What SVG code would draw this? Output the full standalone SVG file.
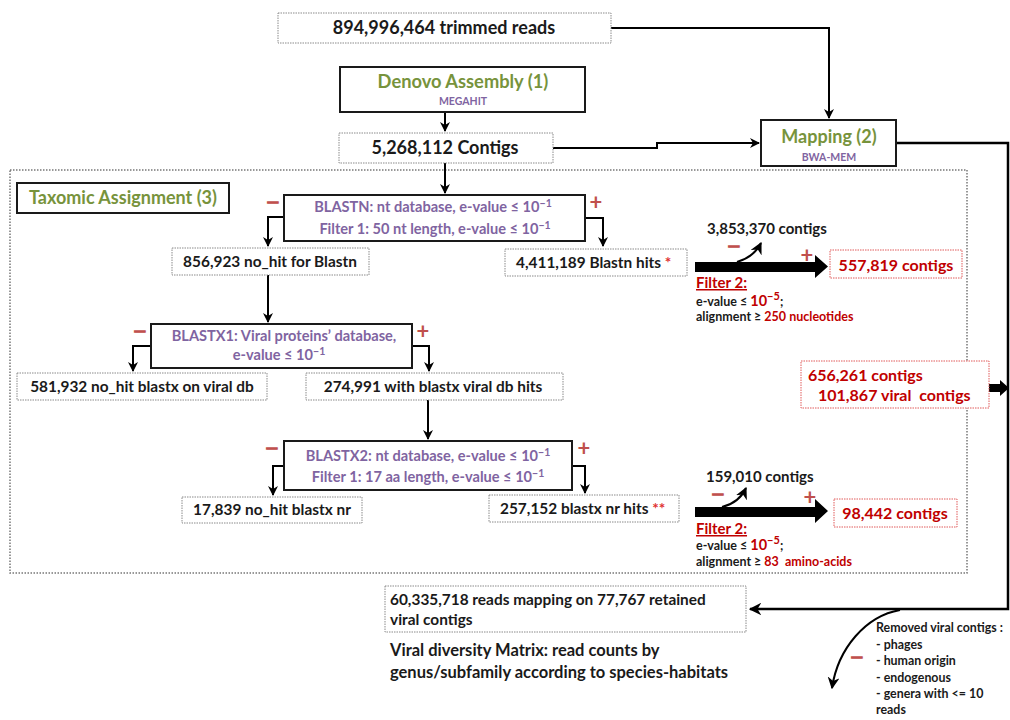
<svg xmlns="http://www.w3.org/2000/svg" width="1010" height="720" viewBox="0 0 1010 720">
<defs>
<style>
text{font-family:Lato,"Open Sans","Liberation Sans",sans-serif;font-weight:bold;fill:#1a1a1a}
.dash{fill:#fff;stroke:#8a8a8a;stroke-width:1;stroke-dasharray:1.5 1}
.rdash{fill:#fff;stroke:#e05a5a;stroke-width:1;stroke-dasharray:1.5 1}
.solid{fill:#fff;stroke:#1a1a1a;stroke-width:2}
.green{fill:#77933C}
.purple{fill:#7F64A1;font-size:14.6px}
.red{fill:#C00000}
.sign{fill:#C0504D;font-size:22px}
.mn{fill:#C0504D;stroke:#C0504D;stroke-width:1.2;font-size:13px;text-anchor:middle}
.ln{fill:none;stroke:#000;stroke-width:2}
.b15{font-size:15.4px}
.s12{font-size:12.5px}
.m{text-anchor:middle}
</style>
<marker id="ah" viewBox="0 0 10 10" refX="9" refY="5" markerWidth="5" markerHeight="5" orient="auto" markerUnits="strokeWidth">
<path d="M0,0 L10,5 L0,10 L3,5 z" fill="#000"/>
</marker>
<marker id="ahs" viewBox="0 0 10 10" refX="9" refY="5" markerWidth="6" markerHeight="6" orient="auto" markerUnits="strokeWidth">
<path d="M0,0 L10,5 L0,10 L3,5 z" fill="#000"/>
</marker>
</defs>
<rect width="1010" height="720" fill="#fff"/>

<rect id="container" x="10" y="170" width="957" height="403" fill="none" stroke="#777" stroke-width="1.5" stroke-dasharray="1.5 1.5"/>

<g id="connectors">
<path class="ln" d="M611,28 H829 V118" marker-end="url(#ah)"/>
<path class="ln" d="M445,112 V131" marker-end="url(#ah)"/>
<path class="ln" d="M553,148 H657 V143 H759" marker-end="url(#ah)"/>
<path fill="none" stroke="#000" stroke-width="2.5" d="M896,143 H1008 V609 H750" marker-end="url(#ah)"/>
<path class="ln" d="M445,163 V193" marker-end="url(#ah)"/>
<path class="ln" d="M284,217 H268 V246" marker-end="url(#ah)"/>
<path class="ln" d="M585,218 H603 V246" marker-end="url(#ah)"/>
<path class="ln" d="M268,275 V322" marker-end="url(#ah)"/>
<path class="ln" d="M151,346 H133 V371" marker-end="url(#ah)"/>
<path class="ln" d="M412,346 H429 V371" marker-end="url(#ah)"/>
<path class="ln" d="M428,400 V439" marker-end="url(#ah)"/>
<path class="ln" d="M284,466 H273 V495" marker-end="url(#ah)"/>
<path class="ln" d="M572,466 H585 V493" marker-end="url(#ah)"/>
<polygon points="695,262 815,262 815,255 828,266.5 815,278 815,272 695,272" fill="#000"/>
<path class="ln" d="M737,262 Q754,257 761,243" marker-end="url(#ahs)"/>
<polygon points="695,507 815,507 815,499 828,511 815,523 815,517 695,517" fill="#000"/>
<path class="ln" d="M722,507 Q739,503 746,488" marker-end="url(#ahs)"/>
<polygon points="989,384 1000,384 1000,380 1009,388 1000,396 1000,392 989,392" fill="#000"/>
<path class="ln" d="M900,610 C866,616 838,648 832,688" marker-end="url(#ahs)"/>
</g>

<g id="trimmed">
<rect class="dash" x="278" y="13" width="333" height="30"/>
<text class="m" x="444" y="34" font-size="18">894,996,464 trimmed reads</text>
</g>

<g id="denovo">
<rect class="solid" x="340" y="67" width="245" height="45"/>
<text class="green m" x="463" y="88" font-size="18.3">Denovo Assembly (1)</text>
<text class="purple m" x="463" y="105" style="font-size:10.5px">MEGAHIT</text>
</g>

<g id="contigs">
<rect class="dash" x="339" y="133" width="214" height="30"/>
<text class="m" x="445" y="154" font-size="18">5,268,112 Contigs</text>
</g>

<g id="mapping">
<rect class="solid" x="761" y="120" width="135" height="46"/>
<text class="green m" x="829" y="143" font-size="18">Mapping (2)</text>
<text class="purple m" x="829" y="161" style="font-size:10.5px">BWA-MEM</text>
</g>

<g id="taxomic">
<rect class="solid" x="17" y="183" width="212" height="30"/>
<text class="green m" x="123" y="204" font-size="18">Taxomic Assignment (3)</text>
</g>

<g id="blastn">
<rect class="solid" x="284" y="195" width="301" height="46"/>
<text class="purple m" x="433" y="212">BLASTN: nt database, e-value ≤ 10<tspan dy="-5" font-size="10.5">−1</tspan></text>
<text class="purple m" x="435" y="234">Filter 1: 50 nt length, e-value ≤ 10<tspan dy="-5" font-size="10.5">−1</tspan></text>
<text class="mn" transform="translate(273,206.5) scale(1.7,1)">−</text>
<text class="sign m" x="596" y="210">+</text>
</g>

<g id="nohit_blastn">
<rect class="dash" x="172" y="248" width="197" height="27"/>
<text class="b15 m" x="270" y="267">856,923 no_hit for Blastn</text>
</g>

<g id="blastn_hits">
<rect class="dash" x="505" y="249" width="182" height="27"/>
<text class="b15" x="516" y="268">4,411,189 Blastn hits <tspan fill="#e03030">*</tspan></text>
</g>

<g id="blastx1">
<rect class="solid" x="151" y="324" width="261" height="44"/>
<text class="purple m" x="284" y="341">BLASTX1: Viral proteins’ database,</text>
<text class="purple m" x="279" y="360">e-value ≤ 10<tspan dy="-5" font-size="10.5">−1</tspan></text>
<text class="mn" transform="translate(140,335.5) scale(1.7,1)">−</text>
<text class="sign m" x="423" y="339">+</text>
</g>

<g id="nohit_blastx_viral">
<rect class="dash" x="17" y="373" width="250" height="27"/>
<text class="b15 m" x="142" y="392">581,932 no_hit blastx on viral db</text>
</g>

<g id="blastx_viral_hits">
<rect class="dash" x="306" y="373" width="257" height="27"/>
<text class="b15 m" x="433" y="392">274,991 with blastx viral db hits</text>
</g>

<g id="blastx2">
<rect class="solid" x="284" y="441" width="288" height="49"/>
<text class="purple m" x="428" y="461">BLASTX2: nt database, e-value ≤ 10<tspan dy="-5" font-size="10.5">−1</tspan></text>
<text class="purple m" x="428" y="482">Filter 1: 17 aa length, e-value ≤ 10<tspan dy="-5" font-size="10.5">−1</tspan></text>
<text class="mn" transform="translate(272,452.5) scale(1.7,1)">−</text>
<text class="sign m" x="584" y="456">+</text>
</g>

<g id="nohit_blastx_nr">
<rect class="dash" x="182" y="497" width="180" height="26"/>
<text class="b15 m" x="272" y="515">17,839 no_hit blastx nr</text>
</g>

<g id="blastx_nr_hits">
<rect class="dash" x="489" y="495" width="190" height="27"/>
<text class="b15" x="500" y="514">257,152 blastx nr hits <tspan fill="#e03030">**</tspan></text>
</g>

<g id="filter2_nt">
<text x="707" y="234" font-size="15">3,853,370 contigs</text>
<text class="mn" transform="translate(734,251) scale(1.7,1)">−</text>
<text class="sign m" x="807" y="263">+</text>
<text class="red" x="696" y="288" font-size="15" text-decoration="underline">Filter 2:</text>
<text class="s12" x="696" y="306">e-value ≤ <tspan class="red" font-size="14.5">10</tspan><tspan class="red" dy="-6" font-size="11">−5</tspan><tspan dy="6">;</tspan></text>
<text class="s12" x="696" y="321">alignment ≥ <tspan class="red">250 nucleotides</tspan></text>
</g>

<g id="contigs_557">
<rect class="rdash" x="830" y="250" width="132" height="28"/>
<text class="red m" x="896" y="271" font-size="16">557,819 contigs</text>
</g>

<g id="filter2_aa">
<text x="706" y="482" font-size="15">159,010 contigs</text>
<text class="mn" transform="translate(718,499) scale(1.7,1)">−</text>
<text class="sign m" x="810" y="505">+</text>
<text class="red" x="696" y="534" font-size="15" text-decoration="underline">Filter 2:</text>
<text class="s12" x="696" y="550">e-value ≤ <tspan class="red" font-size="14.5">10</tspan><tspan class="red" dy="-6" font-size="11">−5</tspan><tspan dy="6">;</tspan></text>
<text class="s12" x="696" y="566" xml:space="preserve">alignment ≥ <tspan class="red">83  amino-acids</tspan></text>
</g>

<g id="contigs_98">
<rect class="rdash" x="834" y="499" width="123" height="28"/>
<text class="red m" x="895" y="519" font-size="16">98,442 contigs</text>
</g>

<g id="contigs_656">
<rect class="rdash" x="801" y="361" width="188" height="47"/>
<text class="red" x="808" y="381" font-size="16">656,261 contigs</text>
<text class="red" x="818" y="401" font-size="16" xml:space="preserve">101,867 viral  contigs</text>
</g>

<g id="reads_mapping">
<rect class="dash" x="385" y="586" width="361" height="46"/>
<text x="390" y="605" font-size="15.4">60,335,718 reads mapping on 77,767 retained</text>
<text x="390" y="625" font-size="15.4">viral contigs</text>
</g>

<g id="matrix">
<text x="390" y="656" font-size="16.5">Viral diversity Matrix: read counts by</text>
<text x="390" y="678" font-size="16.5">genus/subfamily according to species-habitats</text>
</g>

<g id="removed">
<text class="mn" transform="translate(857,662) scale(1.7,1)">−</text>
<text x="876" y="632" font-size="12.4">Removed viral contigs :</text>
<text x="876" y="649" font-size="12.4">- phages</text>
<text x="876" y="665" font-size="12.4">- human origin</text>
<text x="876" y="682" font-size="12.4">- endogenous</text>
<text x="876" y="698" font-size="12.4">- genera with &lt;= 10</text>
<text x="876" y="714" font-size="12.4">reads</text>
</g>
</svg>
